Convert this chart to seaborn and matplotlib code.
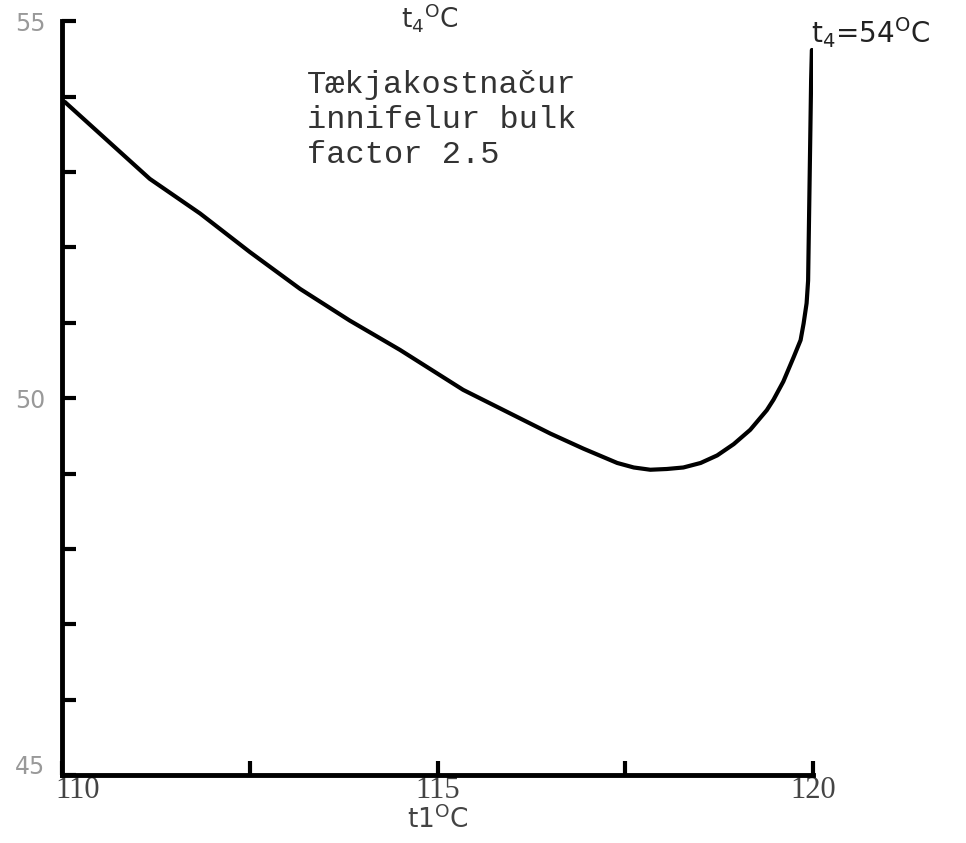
import matplotlib
matplotlib.use("Agg")
import matplotlib.pyplot as plt
import matplotlib.transforms as mtransforms
import seaborn as sns
import pandas as pd

# ── Data ────────────────────────────────────────────────────────────────────
t1_values = [110.04, 111.17, 111.84, 112.50, 113.17, 113.83, 114.50, 115.34,
             116.50, 116.94, 117.39, 117.61, 117.83, 118.05, 118.27, 118.50,
             118.72, 118.94, 119.16, 119.38, 119.47, 119.60, 119.74, 119.83,
             119.87, 119.91, 119.93, 119.94, 119.95, 119.96, 119.97, 119.98]
t4_values = [53.93, 52.91, 52.45, 51.94, 51.45, 51.03, 50.64, 50.11,
             49.53, 49.33, 49.14, 49.08, 49.05, 49.06, 49.08, 49.14,
             49.24, 49.39, 49.58, 49.84, 49.98, 50.22, 50.55, 50.77,
             50.99, 51.26, 51.56, 52.23, 52.89, 53.55, 54.22, 54.62]
x_major_ticks = [110, 115, 120]
x_minor_ticks = [112.5, 117.5]
y_ticks = list(range(45, 56))
y_tick_labels = ["45", "", "", "", "", "50", "", "", "", "", "55"]

note_text = "Tækjakostnačur\ninnifelur bulk\nfactor 2.5"
curve_label = "t$_4$=54$^{\\rm O}$C"

df = pd.DataFrame({"t1": t1_values, "t4": t4_values})

sns.set_style("white")
plt.rcParams["font.family"] = ["DejaVu Sans"]

fig = plt.figure(figsize=(9.66, 8.43), dpi=100)
ax = fig.add_axes([0.064, 0.0807, 0.778, 0.894])

sns.lineplot(data=df, x="t1", y="t4", sort=False, color="black",
             linewidth=3, ax=ax)
ax.lines[0].set_solid_joinstyle("round")

ax.set_xlim(110, 120)
ax.set_ylim(45, 55)

# spines: only left and bottom, thick like hand drawn axes
for side in ("top", "right"):
    ax.spines[side].set_visible(False)
for side in ("left", "bottom"):
    ax.spines[side].set_linewidth(3.5)
    ax.spines[side].set_color("black")

ax.set_xticks(x_major_ticks)
ax.set_xticks(x_minor_ticks, minor=True)
ax.set_xticklabels([str(v) for v in x_major_ticks],
                   family="Liberation Serif", fontsize=22, color="#444444")
ax.set_yticks(y_ticks)
ax.set_yticklabels(y_tick_labels, family="DejaVu Sans", fontsize=17,
                   color="#999999")
ax.tick_params(axis="both", which="both", direction="in", length=10,
               width=3, color="black", bottom=True, left=True)
ax.tick_params(axis="x", pad=1)
ax.tick_params(axis="y", pad=12)

# the scan has "110" a bit right of its tick and "45" a bit above its tick
first_x = ax.get_xticklabels()[0]
first_x.set_transform(first_x.get_transform() +
                      mtransforms.ScaledTranslation(0.16, 0, fig.dpi_scale_trans))
first_y = ax.get_yticklabels()[0]
first_y.set_transform(first_y.get_transform() +
                      mtransforms.ScaledTranslation(0, 0.1, fig.dpi_scale_trans))

ax.set_xlabel("t1$^{\\rm O}$C", fontsize=19, family="DejaVu Sans",
              color="#444444", labelpad=0)
ax.set_ylabel("")

# axis title at top (cut by the page edge in the scan)
fig.text(0.445, 0.999, "t$_4$$^{\\rm O}$C", fontsize=19, ha="center",
         va="top", color="#333333")

ax.text(119.97, 54.62, curve_label, fontsize=20, ha="left", va="bottom",
        color="#222222", clip_on=False)

ax.text(113.26, 54.35, note_text, family="Liberation Mono", fontsize=23,
        ha="left", va="top", linespacing=1.2, color="#333333")

fig.savefig("out.png", dpi=100)
